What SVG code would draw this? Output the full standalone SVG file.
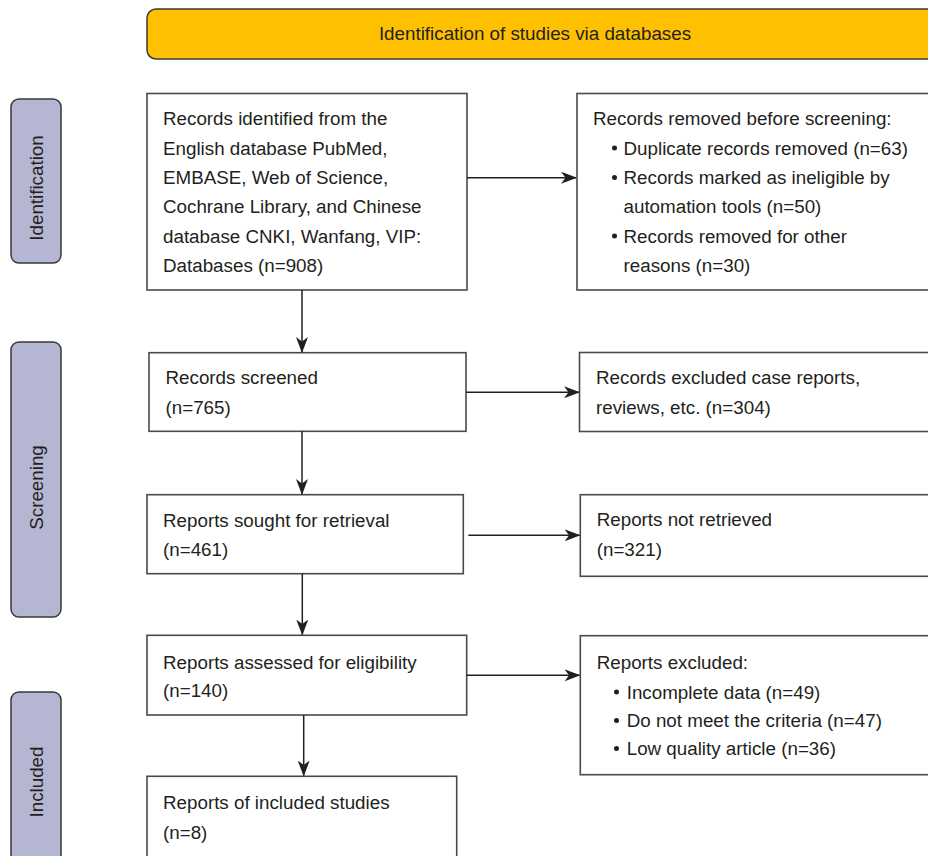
<svg xmlns="http://www.w3.org/2000/svg" width="928" height="856" viewBox="0 0 928 856">
<defs>
<marker id="ah" viewBox="0 0 16 12" refX="15" refY="6" markerWidth="16" markerHeight="12" markerUnits="userSpaceOnUse" orient="auto">
<path d="M0,0 L16,6 L0,12 L4.5,6 Z" fill="#231f20"/>
</marker>
<style>
text{font-family:"Liberation Sans",Arial,sans-serif;font-size:18.8px;fill:#231f20}
.box{fill:#fff;stroke:#4a4a4a;stroke-width:1.6}
.side{fill:#b4b6d2;stroke:#3a3a3a;stroke-width:1.5}
.banner{fill:#ffc000;stroke:#3a3a3a;stroke-width:1.5}
.conn{stroke:#231f20;stroke-width:1.5;fill:none;marker-end:url(#ah)}
.bul{fill:#231f20}
</style>
</defs>
<rect width="928" height="856" fill="#fff"/>

<g id="banner">
<rect class="banner" x="147" y="9" width="800" height="50" rx="9"/>
<text x="535" y="40" text-anchor="middle">Identification of studies via databases</text>
</g>

<g id="side-identification">
<rect class="side" x="11" y="99" width="50" height="164" rx="8"/>
<text transform="translate(43,188) rotate(-90)" text-anchor="middle">Identification</text>
</g>
<g id="side-screening">
<rect class="side" x="11" y="342" width="50" height="275" rx="8"/>
<text transform="translate(43,487.5) rotate(-90)" text-anchor="middle">Screening</text>
</g>
<g id="side-included">
<rect class="side" x="11" y="692" width="50" height="180" rx="8"/>
<text transform="translate(43,782) rotate(-90)" text-anchor="middle">Included</text>
</g>

<g id="n-identified">
<rect class="box" x="147" y="93.5" width="320" height="196.5"/>
<text x="163" y="125">Records identified from the</text>
<text x="163" y="154.5">English database PubMed,</text>
<text x="163" y="184">EMBASE, Web of Science,</text>
<text x="163" y="213">Cochrane Library, and Chinese</text>
<text x="163" y="242.5">database CNKI, Wanfang, VIP:</text>
<text x="163" y="272">Databases (n=908)</text>
</g>

<g id="n-removed">
<rect class="box" x="577" y="93.5" width="380" height="196.5"/>
<text x="593" y="125">Records removed before screening:</text>
<circle class="bul" cx="614.5" cy="148" r="2.5"/>
<text x="623.5" y="154.5">Duplicate records removed (n=63)</text>
<circle class="bul" cx="614.5" cy="177.5" r="2.5"/>
<text x="623.5" y="184">Records marked as ineligible by</text>
<text x="623.5" y="213">automation tools (n=50)</text>
<circle class="bul" cx="614.5" cy="236" r="2.5"/>
<text x="623.5" y="242.5">Records removed for other</text>
<text x="623.5" y="272">reasons (n=30)</text>
</g>

<g id="n-screened">
<rect class="box" x="149" y="352.7" width="317" height="78.6"/>
<text x="165.5" y="383.5">Records screened</text>
<text x="165.5" y="413.5">(n=765)</text>
</g>

<g id="n-excluded1">
<rect class="box" x="579.5" y="352.5" width="380" height="79"/>
<text x="596" y="384">Records excluded case reports,</text>
<text x="596" y="413.5">reviews, etc. (n=304)</text>
</g>

<g id="n-sought">
<rect class="box" x="147" y="494.7" width="316.3" height="79"/>
<text x="163" y="526.5">Reports sought for retrieval</text>
<text x="163" y="556">(n=461)</text>
</g>

<g id="n-notretrieved">
<rect class="box" x="580.3" y="494.7" width="380" height="81.6"/>
<text x="596.7" y="526">Reports not retrieved</text>
<text x="596.7" y="556">(n=321)</text>
</g>

<g id="n-assessed">
<rect class="box" x="147" y="635.3" width="319.7" height="79.7"/>
<text x="163" y="668.5">Reports assessed for eligibility</text>
<text x="163" y="697">(n=140)</text>
</g>

<g id="n-excluded2">
<rect class="box" x="580.3" y="635.7" width="380" height="139"/>
<text x="596.7" y="668.5">Reports excluded:</text>
<circle class="bul" cx="616.5" cy="692" r="2.5"/>
<text x="626.7" y="698.5">Incomplete data (n=49)</text>
<circle class="bul" cx="616.5" cy="720.5" r="2.5"/>
<text x="626.7" y="727">Do not meet the criteria (n=47)</text>
<circle class="bul" cx="616.5" cy="748.5" r="2.5"/>
<text x="626.7" y="755">Low quality article (n=36)</text>
</g>

<g id="n-included">
<rect class="box" x="147" y="776.3" width="309.7" height="100"/>
<text x="163" y="808.5">Reports of included studies</text>
<text x="163" y="838.5">(n=8)</text>
</g>

<g id="connectors">
<line class="conn" x1="467" y1="177.7" x2="576" y2="177.7"/>
<line class="conn" x1="302" y1="290" x2="302" y2="352"/>
<line class="conn" x1="466" y1="392.3" x2="579" y2="392.3"/>
<line class="conn" x1="302" y1="431.3" x2="302" y2="494"/>
<line class="conn" x1="468.3" y1="535.3" x2="579.5" y2="535.3"/>
<line class="conn" x1="302.3" y1="573.7" x2="302.3" y2="634.5"/>
<line class="conn" x1="466.7" y1="675.3" x2="579.5" y2="675.3"/>
<line class="conn" x1="303.7" y1="715" x2="303.7" y2="775.5"/>
</g>
</svg>
